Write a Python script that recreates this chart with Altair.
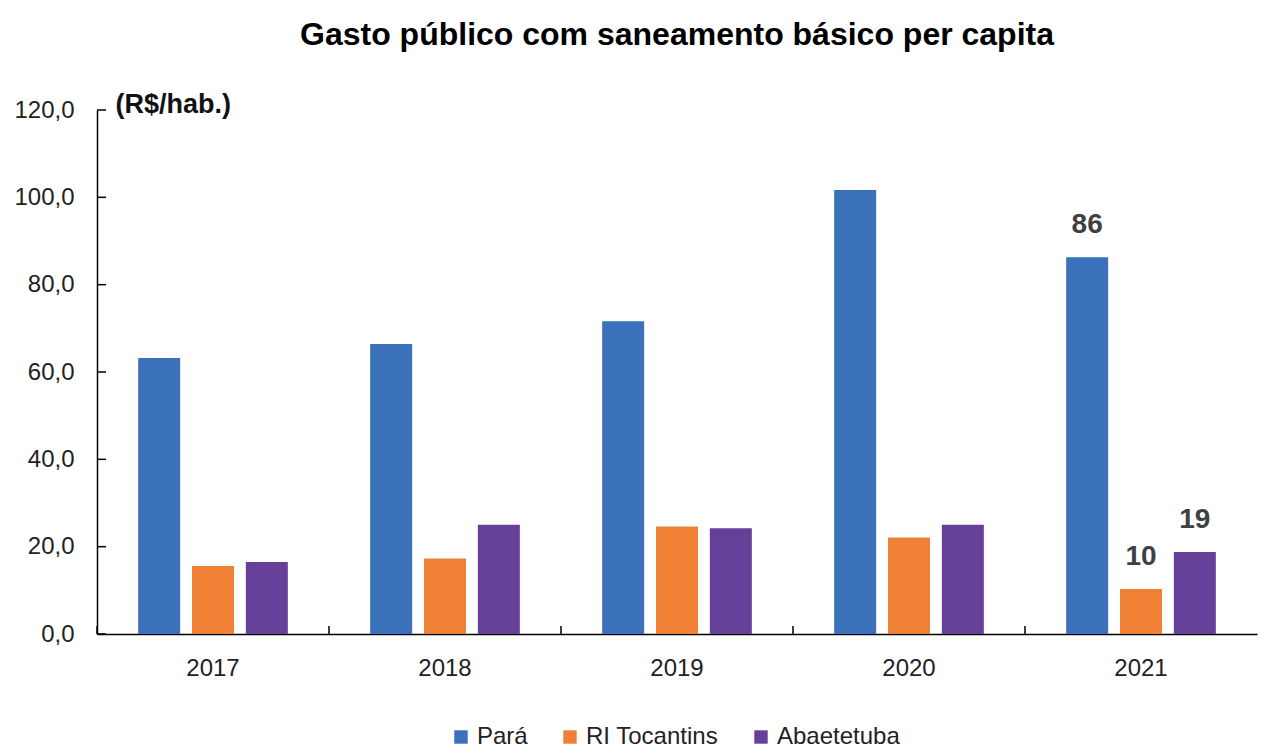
import altair as alt
import pandas as pd

years = ["2017", "2018", "2019", "2020", "2021"]
series = ["Pará", "RI Tocantins", "Abaetetuba"]
para = [63.2, 66.4, 71.6, 101.7, 86.3]
ri_tocantins = [15.6, 17.3, 24.6, 22.1, 10.3]
abaetetuba = [16.5, 25.0, 24.2, 25.0, 18.8]
y_ticks = [0, 20, 40, 60, 80, 100, 120]
colors = ["#3B71BA", "#F08036", "#663F98"]

rows = []
for s, vals in zip(series, [para, ri_tocantins, abaetetuba]):
    for y, v in zip(years, vals):
        rows.append({"year": y, "series": s, "value": v})
df = pd.DataFrame(rows)
ticks_df = pd.DataFrame({"v": y_ticks})
years_df = pd.DataFrame({"year": years})

FONT = "Liberation Sans Narrow, Arial Narrow, Liberation Sans, Arial"
W, H = 1160, 524

x_enc = alt.X("year:N", sort=years, title=None,
              scale=alt.Scale(paddingInner=0, paddingOuter=0),
              axis=alt.Axis(labelAngle=0, labelFontSize=24, labelFont=FONT,
                            labelColor="#222222", labelPadding=22, ticks=False,
                            domainColor="#000000", domainWidth=1.5))
xoff = alt.XOffset("series:N", sort=series,
                   scale=alt.Scale(paddingInner=0.22, paddingOuter=0.765))
y_scale = alt.Scale(domain=[0, 120], nice=False)

bars = alt.Chart(df).mark_bar().encode(
    x=x_enc,
    xOffset=xoff,
    y=alt.Y("value:Q", scale=y_scale,
            axis=alt.Axis(values=y_ticks, ticks=False, grid=False,
                          labelExpr="replace(format(datum.value, '.1f'), '.', ',')",
                          labelFontSize=24, labelFont=FONT, labelColor="#222222",
                          labelPadding=23, domainColor="#000000", domainWidth=1.5,
                          title="(R$/hab.)", titleAngle=0, titleAlign="left",
                          titleBaseline="alphabetic", titleX=18, titleY=2,
                          titleFont=FONT, titleFontSize=27, titleFontWeight="bold",
                          titleColor="#111111")),
    color=alt.Color("series:N", sort=series,
                    scale=alt.Scale(domain=series, range=colors),
                    legend=alt.Legend(title=None, orient="none", direction="horizontal",
                                      legendX=352, legendY=615,
                                      symbolType="square", symbolSize=180,
                                      symbolStrokeWidth=0, labelFontSize=24,
                                      labelFont=FONT, labelColor="#222222",
                                      labelOffset=4, columnPadding=30)),
)

labels = alt.Chart(df).transform_filter(alt.datum.year == "2021").mark_text(
    baseline="alphabetic", dy=-24, fontSize=28, fontWeight="bold",
    font=FONT, color="#404040"
).encode(
    x=alt.X("year:N", sort=years),
    xOffset=alt.XOffset("series:N", sort=series),
    y=alt.Y("value:Q", scale=y_scale),
    text=alt.Text("value:Q", format=".0f"),
)

ytick_marks = alt.Chart(ticks_df).mark_rule(color="#000000", strokeWidth=1.5).encode(
    y=alt.Y("v:Q", scale=y_scale),
    x=alt.value(0),
    x2=alt.value(9),
)

xtick_marks = alt.Chart(years_df).mark_rule(color="#000000", strokeWidth=1.5).encode(
    x=alt.X("year:N", sort=years, bandPosition=0),
    y=alt.value(H),
    y2=alt.value(H - 8),
)

chart = alt.layer(bars, labels, ytick_marks, xtick_marks).properties(
    width=W, height=H,
    background="#ffffff",
    padding={"left": 5, "top": 11, "right": 5, "bottom": 0},
    title=alt.TitleParams("Gasto público com saneamento básico per capita",
                          font=FONT, fontSize=32, fontWeight="bold",
                          color="#000000", anchor="middle", offset=38),
).configure_view(stroke=None, strokeWidth=0)

chart.save("out.html", embed_options={"renderer": "svg", "actions": False})
